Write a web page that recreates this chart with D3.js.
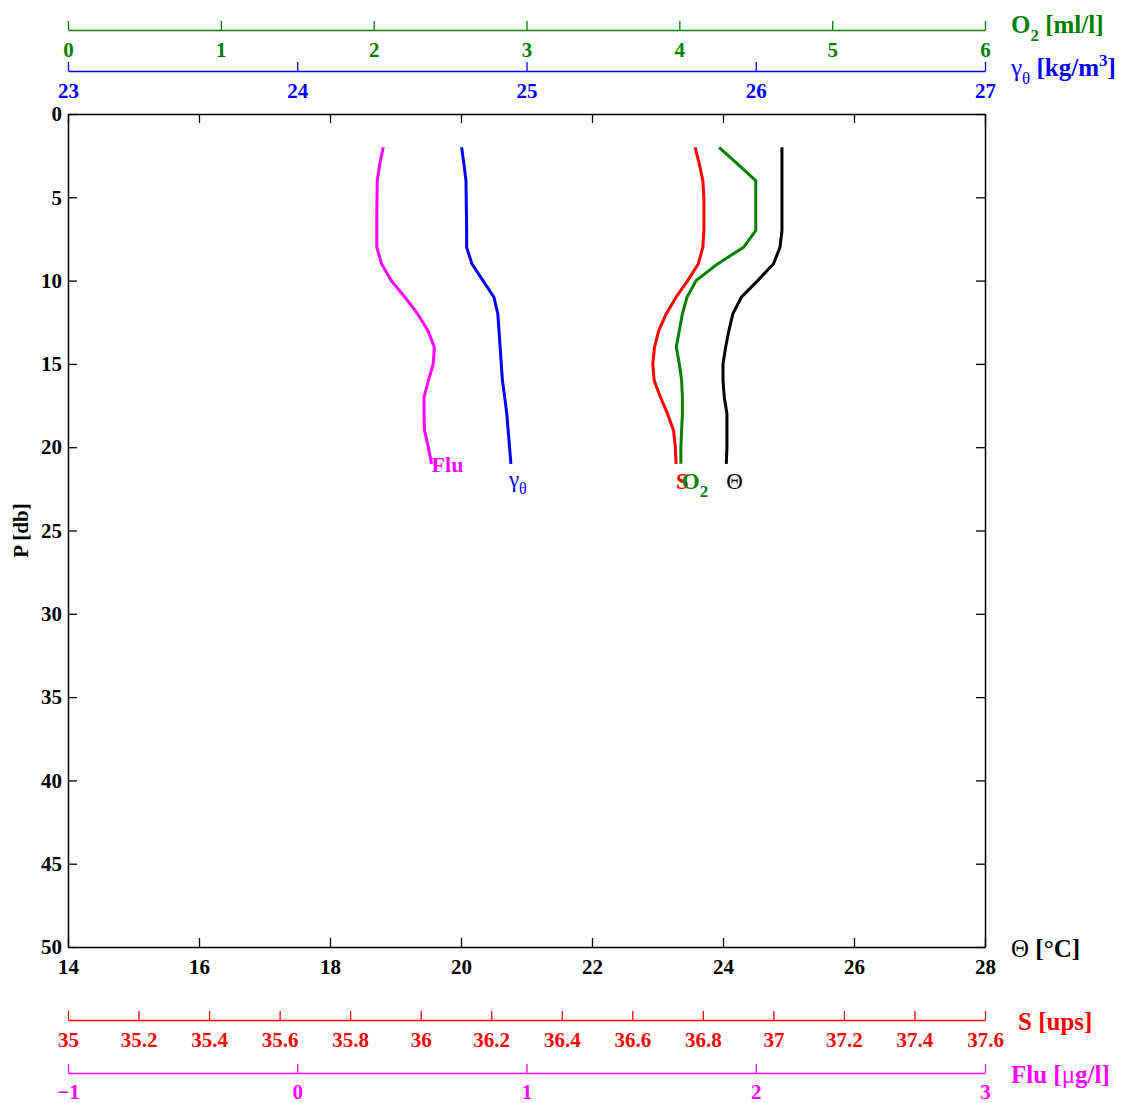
<!DOCTYPE html>
<html>
<head>
<meta charset="utf-8">
<script src="https://cdn.jsdelivr.net/npm/d3@7"></script>
<style>
  body { margin: 0; background: #fff; }
  svg text { font-family: "Liberation Serif", "DejaVu Serif", serif; }
  .tk text { font-weight: bold; font-size: 21px; }
</style>
</head>
<body>
<div id="chart"></div>
<script>
// pressure levels (db) and the five profiles
var pres  = [2,3,4,5,6,7,8,9,10,11,12,13,14,15,16,17,18,19,20,21];
var theta = [24.90,24.90,24.90,24.90,24.90,24.90,24.87,24.77,24.53,24.28,24.15,24.09,24.04,24.00,24.00,24.02,24.06,24.06,24.06,24.05];
var sal   = [36.778,36.79,36.80,36.803,36.803,36.803,36.80,36.787,36.757,36.724,36.696,36.675,36.663,36.658,36.662,36.68,36.70,36.717,36.722,36.724];
var oxy   = [4.26,4.38,4.50,4.50,4.50,4.50,4.42,4.25,4.11,4.05,4.02,4.00,3.98,4.00,4.015,4.02,4.02,4.015,4.01,4.01];
var flu   = [0.375,0.36,0.349,0.348,0.347,0.347,0.347,0.368,0.41,0.47,0.525,0.57,0.598,0.593,0.572,0.553,0.553,0.555,0.572,0.586];
var gam   = [24.717,24.727,24.736,24.737,24.738,24.739,24.739,24.762,24.81,24.858,24.875,24.880,24.885,24.890,24.895,24.905,24.914,24.92,24.926,24.932];

var thetaTicks = [14,16,18,20,22,24,26,28];
var presTicks  = [0,5,10,15,20,25,30,35,40,45,50];
var salTicks   = [35,35.2,35.4,35.6,35.8,36,36.2,36.4,36.6,36.8,37,37.2,37.4,37.6];
var oxyTicks   = [0,1,2,3,4,5,6];
var gamTicks   = [23,24,25,26,27];
var fluTicks   = [-1,0,1,2,3];

var W = 1122, H = 1103;
var pL = 68, pR = 985, pT = 114, pB = 947;

var svg = d3.select("#chart").append("svg")
	.attr("width", W)
	.attr("height", H);

var x  = d3.scaleLinear().domain([14, 28]).range([pL, pR]);
var y  = d3.scaleLinear().domain([0, 50]).range([pT, pB]);
var xS = d3.scaleLinear().domain([35, 37.6]).range([pL, pR]);
var xO = d3.scaleLinear().domain([0, 6]).range([pL, pR]);
var xG = d3.scaleLinear().domain([23, 27]).range([pL, pR]);
var xF = d3.scaleLinear().domain([-1, 3]).range([pL, pR]);

function styleAxis(g, col)
{
	g.attr("class", "tk");
	g.selectAll("path").attr("stroke", col).attr("stroke-width", 1.5);
	g.selectAll("line").attr("stroke", col).attr("stroke-width", 1.3);
	g.selectAll("text").attr("fill", col);
}

// main box, ticks pointing inward
svg.append("g").attr("transform", "translate(0," + pB + ")")
	.call(d3.axisBottom(x).tickValues(thetaTicks).tickSize(-9).tickSizeOuter(0).tickPadding(12).tickFormat(d3.format("d")))
	.call(styleAxis, "#000");
svg.append("g").attr("transform", "translate(0," + pT + ")")
	.call(d3.axisTop(x).tickValues(thetaTicks).tickSize(-9).tickSizeOuter(0).tickFormat(""))
	.call(styleAxis, "#000");
svg.append("g").attr("transform", "translate(" + pL + ",0)")
	.call(d3.axisLeft(y).tickValues(presTicks).tickSize(-9).tickSizeOuter(0).tickPadding(6).tickFormat(d3.format("d")))
	.call(styleAxis, "#000");
svg.append("g").attr("transform", "translate(" + pR + ",0)")
	.call(d3.axisRight(y).tickValues(presTicks).tickSize(-9).tickSizeOuter(0).tickFormat(""))
	.call(styleAxis, "#000");

// extra axes: ticks up, labels below
function extraAxis(scale, ticks, yy, col, fmt, pad)
{
	svg.append("g").attr("transform", "translate(0," + yy + ")")
		.call(d3.axisBottom(scale).tickValues(ticks).tickSize(-9).tickSizeOuter(0).tickPadding(pad).tickFormat(fmt))
		.call(styleAxis, col);
}
extraAxis(xO, oxyTicks, 30, "#008000", d3.format("d"), 12);
extraAxis(xG, gamTicks, 71, "#0000ff", d3.format("d"), 12);
extraAxis(xS, salTicks, 1020, "#ff0000", function(d) { return d3.format("")(+d.toFixed(1)); }, 12);
extraAxis(xF, fluTicks, 1073, "#ff00ff", d3.format("d"), 11);

// profiles
var series = [
	{vals: flu,   sc: xF, col: "#ff00ff"},
	{vals: gam,   sc: xG, col: "#0000ff"},
	{vals: sal,   sc: xS, col: "#ff0000"},
	{vals: oxy,   sc: xO, col: "#008000"},
	{vals: theta, sc: x,  col: "#000000"}
];
series.forEach(function(s)
{
	var line = d3.line()
		.x(function(d, i) { return s.sc(d); })
		.y(function(d, i) { return y(pres[i]); });
	svg.append("path")
		.attr("d", line(s.vals))
		.attr("fill", "none")
		.attr("stroke", s.col)
		.attr("stroke-width", 3);
});

// curve labels at the bottom end of each profile
var last = pres.length - 1;
svg.append("text").attr("x", xF(flu[last])).attr("y", y(21) + 8)
	.attr("fill", "#ff00ff").attr("font-weight", "bold").attr("font-size", 22).text("Flu");
var gl = svg.append("text").attr("x", xG(gam[last]) - 2).attr("y", y(22) + 6)
	.attr("fill", "#0000ff").attr("font-size", 23);
gl.append("tspan").text("γ");
gl.append("tspan").attr("dy", 7).attr("font-size", 16).text("θ");
svg.append("text").attr("x", xS(sal[last])).attr("y", y(22) + 8)
	.attr("fill", "#ff0000").attr("font-weight", "bold").attr("font-size", 23).text("S");
var ol = svg.append("text").attr("x", xO(oxy[last]) + 1).attr("y", y(22) + 8)
	.attr("fill", "#008000").attr("font-weight", "bold").attr("font-size", 23);
ol.append("tspan").text("O");
ol.append("tspan").attr("dy", 8).attr("font-size", 17).text("2");
svg.append("text").attr("x", x(theta[last])).attr("y", y(22) + 8)
	.attr("fill", "#000").attr("font-size", 23).text("Θ");

// axis titles
var t1 = svg.append("text").attr("x", 1011).attr("y", 33)
	.attr("fill", "#008000").attr("font-weight", "bold").attr("font-size", 25);
t1.append("tspan").text("O");
t1.append("tspan").attr("dy", 8).attr("font-size", 17).text("2");
t1.append("tspan").attr("dy", -8).text(" [ml/l]");

var t2 = svg.append("text").attr("x", 1011).attr("y", 76)
	.attr("fill", "#0000ff").attr("font-weight", "bold").attr("font-size", 25);
t2.append("tspan").attr("font-weight", "normal").text("γ");
t2.append("tspan").attr("dy", 8).attr("font-size", 17).attr("font-weight", "normal").text("θ");
t2.append("tspan").attr("dy", -8).text(" [kg/m");
t2.append("tspan").attr("dy", -10).attr("font-size", 17).text("3");
t2.append("tspan").attr("dy", 10).text("]");

var t3 = svg.append("text").attr("x", 1011).attr("y", 957)
	.attr("fill", "#000").attr("font-size", 25);
t3.append("tspan").text("Θ ");
t3.append("tspan").attr("font-weight", "bold").text("[°C]");

svg.append("text").attr("x", 1018).attr("y", 1030)
	.attr("fill", "#ff0000").attr("font-weight", "bold").attr("font-size", 25).text("S [ups]");

var t5 = svg.append("text").attr("x", 1011).attr("y", 1083)
	.attr("fill", "#ff00ff").attr("font-weight", "bold").attr("font-size", 25);
t5.append("tspan").text("Flu [");
t5.append("tspan").attr("font-weight", "normal").text("μ");
t5.append("tspan").text("g/l]");

svg.append("text")
	.attr("transform", "translate(28," + ((pT + pB) / 2) + ") rotate(-90)")
	.attr("text-anchor", "middle")
	.attr("font-weight", "bold").attr("font-size", 21)
	.text("P [db]");
</script>
</body>
</html>
